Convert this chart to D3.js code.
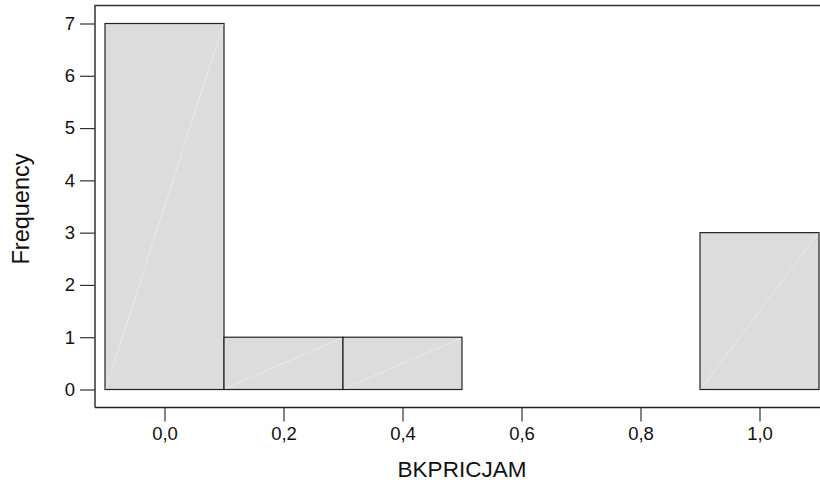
<!DOCTYPE html>
<html><head><meta charset="utf-8">
<script src="https://cdn.jsdelivr.net/npm/d3@7/dist/d3.min.js"></script>
<style>body{margin:0;background:#fff}svg{display:block}text{font-family:"Liberation Sans",Arial,sans-serif;fill:#111}</style>
</head><body><svg id="c" width="820" height="487"></svg>
<script>
const binStarts = [-0.1, 0.1, 0.3, 0.5, 0.7, 0.9];
const binEnds   = [0.1, 0.3, 0.5, 0.7, 0.9, 1.1];
const counts    = [7, 1, 1, 0, 0, 3];
const xTicks    = [0, 0.2, 0.4, 0.6, 0.8, 1.0];
const yTicks    = [0, 1, 2, 3, 4, 5, 6, 7];
const xTitle = "BKPRICJAM";
const yTitle = "Frequency";

const svg = d3.select("#c");
const x = d3.scaleLinear().domain([0, 1]).range([164.5, 759.5]);
const y = d3.scaleLinear().domain([0, 7]).range([389.5, 23.5]);
const fmt = d => d3.format(".1f")(d).replace(".", ",");

// frame
svg.append("path").attr("d", "M95,407.5 L95,5.5 L830,5.5")
  .attr("fill", "none").attr("stroke", "#333").attr("stroke-width", 1.5);
svg.append("line").attr("x1", 95).attr("x2", 830).attr("y1", 407.5).attr("y2", 407.5)
  .attr("stroke", "#222").attr("stroke-width", 1.5);

// bars
const bars = binStarts.map((s, i) => ({s, e: binEnds[i], c: counts[i]}));
const g = svg.append("g");
g.selectAll("rect").data(bars).join("rect")
  .attr("x", d => x(d.s)).attr("width", d => x(d.e) - x(d.s))
  .attr("y", d => y(d.c)).attr("height", d => y(0) - y(d.c))
  .attr("fill", "#dcdcdc").attr("stroke", "#222").attr("stroke-width", 1.2);
g.selectAll("line.diag").data(bars.filter(d => d.c > 0)).join("line")
  .attr("class", "diag")
  .attr("x1", d => x(d.s) + 1).attr("y1", y(0) - 1)
  .attr("x2", d => x(d.e) - 1).attr("y2", d => y(d.c) + 1)
  .attr("stroke", "#e9e9e9").attr("stroke-width", 1);

// y axis
const ya = svg.append("g").attr("transform", "translate(95,0)")
  .call(d3.axisLeft(y).tickValues(yTicks).tickSize(15).tickPadding(5).tickFormat(d3.format("d")));
ya.select(".domain").remove();
ya.selectAll("line").attr("stroke", "#333").attr("stroke-width", 1.2);
ya.selectAll("text").attr("font-size", 18.5).attr("fill", "#111");

// x axis
const xa = svg.append("g").attr("transform", "translate(0,407.5)")
  .call(d3.axisBottom(x).tickValues(xTicks).tickSize(14).tickPadding(5).tickFormat(fmt));
xa.select(".domain").remove();
xa.selectAll("line").attr("stroke", "#333").attr("stroke-width", 1.2);
xa.selectAll("text").attr("font-size", 18.5).attr("fill", "#111");

// titles
svg.append("text").attr("x", 462).attr("y", 477).attr("text-anchor", "middle")
  .attr("font-size", 22.5).text(xTitle);
svg.append("text").attr("transform", "translate(29,209) rotate(-90)").attr("text-anchor", "middle")
  .attr("font-size", 23.5).text(yTitle);
</script></body></html>
